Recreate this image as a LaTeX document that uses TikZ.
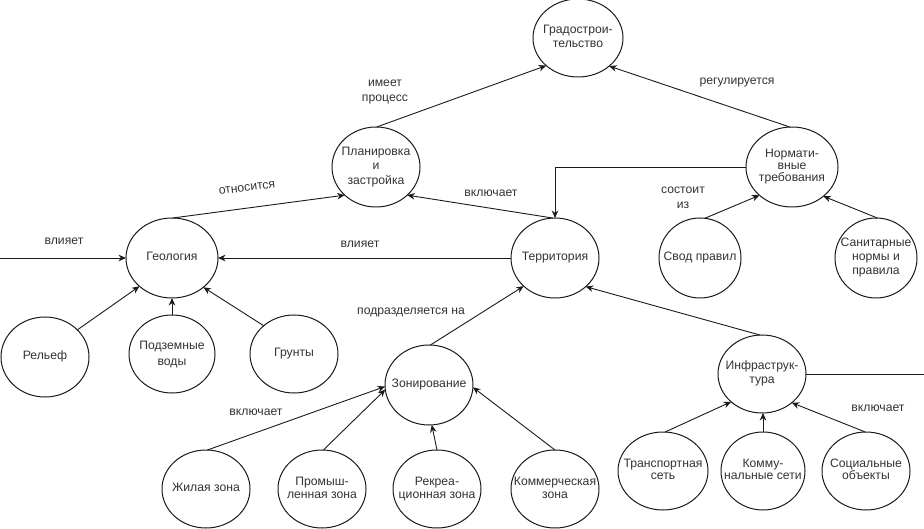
\documentclass[tikz,border=0pt]{standalone}
\usepackage{fontspec}
\setmainfont{Liberation Sans}
\usetikzlibrary{shapes.geometric,arrows.meta}
\definecolor{txt}{HTML}{333333}
\definecolor{ln}{HTML}{1A1A1A}
\newcommand\ctrtext[1]{\vbox to 0pt{\vss\hbox to 0pt{\hss\begin{tabular}{@{}c@{}}#1\end{tabular}\hss}\vss}}
\tikzset{
  circ/.style={ellipse, draw=ln, line width=1pt, inner sep=0pt, outer sep=0pt,
    text=txt, font=\fontsize{12.2}{13.5}\selectfont, fill=white},
  lab/.style={text=txt, align=center, font=\fontsize{12.2}{14.5}\selectfont, inner sep=0pt},
  conn/.style={draw=ln, line width=0.9pt, -{Stealth[length=7.5pt,width=6.5pt]}},
  plain/.style={draw=ln, line width=0.9pt}
}
\begin{document}
\begin{tikzpicture}[x=1pt,y=-1pt]
\useasboundingbox (0,0) rectangle (924,529);
% nodes
\node[circ, minimum width=90pt, minimum height=78pt] (grad) at (578,38) {\ctrtext{Градострои-\\тельство}};
\node[circ, minimum width=88pt, minimum height=80pt, font=\fontsize{12.2}{14.5}\selectfont] (plan) at (376,167) {\ctrtext{Планировка\\и\\застройка}};
\node[circ, minimum width=92pt, minimum height=80pt, font=\fontsize{12.2}{11.8}\selectfont] (norm) at (792,167) {\ctrtext{Нормати-\\вные\\требования}};
\node[circ, minimum width=92pt, minimum height=80pt] (geo) at (172,258) {\ctrtext{Геология}};
\node[circ, minimum width=88pt, minimum height=80pt] (terr) at (555,258) {\ctrtext{Территория}};
\node[circ, minimum width=82pt, minimum height=80pt] (svod) at (700,258) {\ctrtext{Свод правил}};
\node[circ, minimum width=82pt, minimum height=80pt, font=\fontsize{12.2}{14}\selectfont] (san) at (876,258) {\ctrtext{Санитарные\\нормы и\\правила}};
\node[circ, minimum width=88pt, minimum height=80pt] (rel) at (45,357) {\ctrtext{Рельеф}};
\node[circ, minimum width=86pt, minimum height=78pt, font=\fontsize{12.2}{16}\selectfont] (podz) at (172,354) {\ctrtext{Подземные\\воды}};
\node[circ, minimum width=88pt, minimum height=78pt] (grunt) at (294,354) {\ctrtext{Грунты}};
\node[circ, minimum width=88pt, minimum height=80pt] (zon) at (429,385) {\ctrtext{Зонирование}};
\node[circ, minimum width=88pt, minimum height=78pt, font=\fontsize{12.2}{14}\selectfont] (infra) at (762,374) {\ctrtext{Инфраструк-\\тура}};
\node[circ, minimum width=88pt, minimum height=78pt] (zhil) at (206,489) {\ctrtext{Жилая зона}};
\node[circ, minimum width=88pt, minimum height=78pt, font=\fontsize{12.2}{13}\selectfont] (prom) at (322,489) {\ctrtext{Промыш-\\ленная зона}};
\node[circ, minimum width=88pt, minimum height=78pt, font=\fontsize{12.2}{13}\selectfont] (rekr) at (437,489) {\ctrtext{Рекреа-\\ционная зона}};
\node[circ, minimum width=88pt, minimum height=78pt, font=\fontsize{12.2}{13}\selectfont] (komm) at (555,489) {\ctrtext{Коммерческая\\зона}};
\node[circ, minimum width=90pt, minimum height=78pt, font=\fontsize{12.2}{11.5}\selectfont] (trans) at (663,471) {\ctrtext{Транспортная\\сеть}};
\node[circ, minimum width=84pt, minimum height=78pt, font=\fontsize{12.2}{11.5}\selectfont] (kommun) at (763,471) {\ctrtext{Комму-\\нальные сети}};
\node[circ, minimum width=88pt, minimum height=78pt, font=\fontsize{12.2}{11.5}\selectfont] (soc) at (866,471) {\ctrtext{Социальные\\объекты}};
% free ends
\coordinate (leftin) at (0,258);
\coordinate (rightout) at (924,374);
% connectors
\draw[conn] (plan.89) -- (grad.221);
\draw[conn] (norm.93) -- (grad.318);
\draw[conn] (geo.89) -- (plan.222);
\draw[conn] (terr.93) -- (plan.318.6);
\draw[conn] (norm.west) -| (terr.north);
\draw[conn] (terr.west) -- (geo.east);
\draw[conn] (leftin) -- (geo.west);
\draw[conn] (rel.40) -- (geo.221.4);
\draw[conn] (podz.north) -- (geo.south);
\draw[conn] (grunt.137) -- (geo.317.7);
\draw[conn] (svod.83) -- (norm.221.4);
\draw[conn] (san.88.6) -- (norm.317);
\draw[conn] (zon.88.6) -- (terr.222);
\draw[conn] (infra.93) -- (terr.317.8);
\draw[plain] (infra.east) -- (rightout);
\draw[conn] (zhil.88.6) -- (zon.182.6);
\draw[conn] (prom.88.6) -- (zon.186);
\draw[conn] (rekr.90) -- (zon.274);
\draw[conn] (komm.90) -- (zon.357.4);
\draw[conn] (trans.87) -- (infra.222.4);
\draw[conn] (kommun.north) -- (infra.south -| kommun.north);
\draw[conn] (soc.91.4) -- (infra.316.8);
% labels
\node[lab] (l1) at (385,92) {имеет\\процесс};
\node[lab] (l2) at (737,82) {регулируется};
\node[lab, rotate=7] (l3) at (247,188) {относится};
\node[lab] (l4) at (491,193) {включает};
\node[lab] (l5) at (360,244) {влияет};
\node[lab] (l6) at (64,241) {влияет};
\node[lab] (l7) at (683,198) {состоит\\из};
\node[lab] (l8) at (411,312) {подразделяется на};
\node[lab] (l9) at (256,412) {включает};
\node[lab] (l10) at (878,408) {включает};
\end{tikzpicture}
\end{document}
